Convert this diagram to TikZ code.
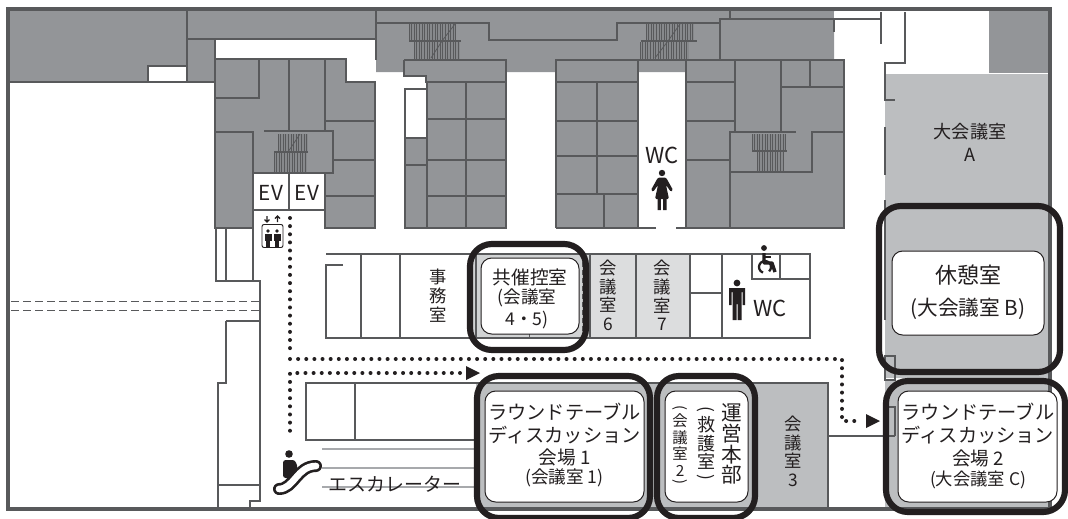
\documentclass[tikz,border=0pt]{standalone}
\usepackage{fontspec}
\setmainfont{Noto Sans CJK JP}
\newcommand{\pxfont}[2]{\fontsize{#1}{#2}\selectfont}
\definecolor{wallc}{HTML}{58595B}
\definecolor{darkroom}{HTML}{939598}
\definecolor{lightroom}{HTML}{BCBEC0}
\definecolor{paleroom}{HTML}{DCDDDE}
\definecolor{midroom}{HTML}{D1D3D4}
\definecolor{thinc}{HTML}{A7A9AC}
\definecolor{inkc}{HTML}{231F20}
\newcommand{\stairhatch}[4]{%
  \fill[darkroom!80!wallc] (#1,#2) rectangle (#3,#4);
  \pgfmathsetmacro\hxnext{#1+2.6}
  \foreach \hx in {#1,\hxnext,...,#3} \draw[wallc,line width=0.5pt] (\hx,#2) -- (\hx,#4);
}
\tikzset{
  wall/.style={draw=wallc,line width=1.5pt,line join=miter},
  thickwall/.style={draw=wallc,line width=3pt},
  frameloop/.style={draw=inkc,line width=4.6pt,rounded corners=16.5pt},
  whitebox/.style={draw=inkc,line width=0.75pt,fill=white,rounded corners=8pt},
  label/.style={text=inkc,inner sep=0pt,align=center,font=\pxfont{13.6}{17}},
  vlabel/.style={text=inkc,inner sep=0pt,align=center,font=\pxfont{13}{14}},
  vparen/.style={text=inkc,inner sep=0pt,rotate=-90},
  dotroute/.style={draw=inkc,line width=3pt,line cap=round,dash pattern=on 0pt off 6.1pt},
  iconfill/.style={fill=inkc,draw=none}
}
\begin{document}
\begin{tikzpicture}[x=0.75pt,y=-0.75pt]
\clip (0,0) rectangle (1068,518);
\fill[white] (0,0) rectangle (1068,518);
% ---------- fills
\fill[lightroom] (885,74) rectangle (1048,378);
\fill[lightroom] (885,381) rectangle (1048,507);
\fill[lightroom] (476,383) rectangle (828,507);
\fill[midroom] (472,254) rectangle (590,338);
\fill[paleroom] (590,254) rectangle (690,338);
\fill[darkroom] (9,10) -- (187,10) -- (187,66) -- (148,66) -- (148,81) -- (9,81) -- cycle;
\fill[darkroom] (187,10) rectangle (376,38);
\fill[darkroom] (187,38) rectangle (215,81);
\fill[darkroom] (376,10) -- (834,10) -- (834,60) -- (686,60) -- (686,72) -- (638,72) -- (638,60) -- (556,60) -- (556,72) -- (506,72) -- (404,72) -- (376,72) -- cycle;
\fill[darkroom] (989,11) rectangle (1048,73);
\fill[white] (834,12) rectangle (881,18);
\fill[darkroom] (215,59) -- (346,59) -- (346,82) -- (375,82) -- (375,228) -- (325,228) -- (325,173) -- (253,173) -- (253,228) -- (215,228) -- cycle;
\fill[darkroom] (404,60) -- (506,60) -- (506,228) -- (405,228) -- (405,137) -- (427,137) -- (427,76) -- (404,76) -- cycle;
\fill[darkroom] (556,60) rectangle (638,228);
\fill[darkroom] (686,60) rectangle (844,228);
\fill[darkroom] (638,60) rectangle (686,72);
% ---------- stairs
\stairhatch{409}{24}{456}{40}
\stairhatch{414}{42}{460}{59}
\stairhatch{646}{24}{694}{40}
\stairhatch{640}{42}{689}{59}
\stairhatch{278}{134}{308}{151}
\stairhatch{274}{153}{307}{172}
\stairhatch{752}{134}{786}{150}
\stairhatch{757}{152}{784}{172}
\draw[wallc,line width=0.6pt] (431,58) -- (442,41) -- (455,24);
\draw[wallc,line width=0.6pt] (655,58) -- (668,41) -- (680,24);
\draw[wallc,line width=0.6pt] (288,152) -- (300,134);
\draw[wall] (409,41) -- (461,41) (641,41) -- (697,41) (274,152) -- (308,152) (752,151) -- (787,151);
% ---------- walls: top left
\draw[wall] (148,81) -- (148,66) -- (187,66);
\draw[wall] (187,10) -- (187,81);
\draw[wall] (187,38.5) -- (376,38.5);
\draw[wall] (9,82) -- (215,82);
\draw[wall] (215,39) -- (215,228) -- (253,228);
\draw[wall] (376,10) -- (376,60);
\draw[wall] (376,23) -- (489,23) -- (489,40) -- (617,40) -- (617,23) -- (720,23);
\draw[wall] (720,59) -- (720,19) -- (881,19);
\draw[wall] (730,10) -- (730,18);
\draw[wall] (834,19) -- (834,32);
% elevator block
\draw[wall] (215,59) -- (346,59) -- (346,82) -- (375,82) -- (375,228) -- (325,228) -- (325,173);
\draw[wall] (215,98) -- (259,98) -- (259,59);
\draw[wall] (289,59) -- (289,131);
\draw[wall] (325,59) -- (325,131);
\draw[wall] (264,131) -- (333,131) -- (333,173) -- (253,173) -- (253,132) -- (215,132);
\draw[wall] (326,121) -- (375,121) (333,160) -- (375,160) (325,196) -- (375,196);
\draw[wall] (253,173) -- (253,281);
\draw[wall] (289,173) -- (289,210);
\draw[wall] (253,210) -- (325,210);
% second block
\draw[wall] (404,60) -- (506,60) -- (506,228) -- (405,228) -- (405,89) -- (427,89);
\draw[wall] (404,60) -- (404,76) -- (426,76) -- (426,82) -- (506,82);
\draw[wall] (427,82) -- (427,228);
\draw[wall] (466,82) -- (466,228);
\draw[wall] (427,119) -- (506,119) (427,160) -- (506,160) (427,196) -- (506,196);
\draw[wall] (405,138) -- (427,138) (405,165) -- (427,165);
% third block
\draw[wall] (556,228) -- (556,60) -- (844,60) -- (844,228) -- (676,228);
\draw[wall] (656,228) -- (556,228);
\draw[wall] (638,60) -- (638,228);
\draw[wall] (686,60) -- (686,228);
\draw[wall] (556,82) -- (638,82) (556,121) -- (638,121) (556,156) -- (638,156) (556,194) -- (638,194);
\draw[wall] (597,82) -- (597,194) (604,194) -- (604,228);
\draw[wall] (686,82) -- (735,82) (686,121) -- (735,121) (686,160) -- (730,160);
\draw[wall] (735,60) -- (735,132);
\draw[wall] (781,60) -- (781,131);
\draw[wall] (781,87) -- (844,87) (810,60) -- (810,87);
\draw[wall] (796,132) -- (730,132) -- (730,228);
\draw[wall] (730,172) -- (812,172) -- (812,132) -- (844,132);
% right top
\draw[wall] (881,12) -- (881,44);
\draw[wall] (905,12) -- (905,63) -- (885,63) -- (885,100) -- (895,100);
\draw[wall] (885,127) -- (885,175);
\draw[wall] (885,200) -- (885,320);
\draw[wall] (885,356) rectangle (895,380);
\draw[wall] (885,407) -- (895,407) -- (895,436);
\draw[wall] (828,436) -- (895,436);
% left passage
\draw[wall] (226,228) -- (226,281);
\draw[wall] (216,228) -- (216,281) -- (260,281) -- (260,501) -- (250,501) -- (250,508);
\draw[wall] (226,321) -- (260,321);
\draw[wall] (226,321) -- (226,383) -- (218,383) -- (218,508);
\draw[wall] (218,485) -- (260,485);
\draw[wallc,line width=0.6pt,dash pattern=on 6pt off 3pt] (11,301) -- (260,301) (11,310) -- (260,310);
% middle row
\draw[wall] (343,265) -- (326,265) -- (326,338) -- (810,338) -- (810,254) -- (326,254);
\draw[wall] (361,254) -- (361,338) (400,254) -- (400,338);
\draw[wall] (476,254) -- (476,338);
\draw[wall] (590,254) -- (590,338) (636,254) -- (636,338) (690,254) -- (690,338) (722,254) -- (722,338);
\draw[wall] (690,293) -- (722,293);
\draw[wall] (752,254) -- (752,279) -- (810,279) (780,254) -- (780,279);
\draw[wallc,line width=0.8pt,dash pattern=on 4pt off 2pt] (583,254) -- (583,338);
\draw[wallc,line width=0.6pt] (529,334) -- (529,338);
% lower row
\draw[wall] (476,440) -- (306,440) -- (306,383) -- (828,383) -- (828,509);
\draw[wall] (355,383) -- (355,440);
\draw[thinc,line width=1pt] (322,449) -- (476,449) (322,468) -- (476,468) (322,487) -- (476,487);
% ---------- outer wall
\draw[thickwall] (7.5,9) -- (1050,9) -- (1050,509) -- (7.5,509) -- cycle;
% ---------- routes
\coordinate (liftdot) at (290,218);
\coordinate (routeA) at (290,359);
\coordinate (routeB) at (842,359);
\coordinate (routeC) at (842,421);
\coordinate (routeD) at (862,421);
\coordinate (escdot) at (290,438);
\coordinate (routeE) at (290,373);
\coordinate (routeF) at (460,373);
\draw[dotroute] (liftdot) -- (290,350);
\draw[dotroute] (routeA) -- (routeB) -- (routeC) -- (routeD);
\draw[dotroute] (routeF) -- (routeE) -- (escdot);
\fill[inkc] (866,414) -- (880,421) -- (866,428) -- cycle;
\fill[inkc] (466,366) -- (480,373) -- (466,380) -- cycle;
% ---------- icons
% lift
\draw[inkc,line width=0.7pt,rounded corners=1.5pt] (262,224.5) rectangle (283,247.5);
\draw[inkc,line width=0.9pt] (267,216) -- (267,222) (264.5,219.5) -- (267,222) -- (269.5,219.5);
\draw[inkc,line width=0.9pt] (277.5,222) -- (277.5,216) (275,218.5) -- (277.5,216) -- (280,218.5);
\foreach \px in {268,277}{
  \fill[inkc] (\px,231) circle (1.9);
  \fill[inkc] (\px-3.5,234) rectangle (\px+3.5,241);
  \fill[inkc] (\px-2.3,241) rectangle (\px-0.3,247);
  \fill[inkc] (\px+0.3,241) rectangle (\px+2.3,247);
}
% woman
\fill[inkc] (662,173) circle (3.2);
\fill[iconfill,rounded corners=1pt] (658,177.5) -- (666,177.5) -- (673,190) -- (671,192) -- (666,185) -- (669,199) -- (655,199) -- (658,185) -- (653,192) -- (651,190) -- cycle;
\fill[inkc] (657.5,199) rectangle (660.8,210) (663.2,199) rectangle (666.5,210);
% man
\fill[inkc] (737,283) circle (3.4);
\fill[iconfill] (729,288) -- (745,288) -- (745,305) -- (742.5,305) -- (742.5,292) -- (741.5,292) -- (741.5,320) -- (737.5,320) -- (737.5,304) -- (736.5,304) -- (736.5,320) -- (732.5,320) -- (732.5,292) -- (731.5,292) -- (731.5,305) -- (729,305) -- cycle;
% wheelchair
\fill[inkc] (764,248) circle (2.9);
\draw[inkc,line width=1.7pt] (765,267) ++(47:6) arc (47:-250:6);
\draw[inkc,line width=2.6pt,line join=round] (764,253) -- (764,263) -- (772,263) -- (775,272);
\draw[inkc,line width=1.7pt] (764,257) -- (771,257);
% escalator
\draw[inkc,line width=9pt,line cap=round,line join=round] (279,489) .. controls (294,489) and (297,466) .. (316,466);
\draw[white,line width=5pt,line cap=round,line join=round] (279,489) .. controls (294,489) and (297,466) .. (316,466);
\fill[inkc] (289,454) circle (3.8);
\fill[iconfill,rounded corners=2pt] (283,460) -- (295,460) -- (298,468) -- (291,478) -- (283,478) -- cycle;
% ---------- frames
\draw[frameloop] (470,244) rectangle (586,350);
\draw[frameloop] (477,376) rectangle (650,518);
\draw[frameloop] (657,376) rectangle (755,518);
\draw[frameloop] (879,206) rectangle (1060,372);
\draw[frameloop] (886,381) rectangle (1065,512);
% ---------- inner boxes
\path[whitebox] (481,258) rectangle (579,334);
\path[whitebox] (485,391) rectangle (644,502);
\path[whitebox] (665,391) rectangle (748,502);
\path[whitebox] (892,251) rectangle (1044,335);
\path[whitebox] (898,391) rectangle (1057,502);
% ---------- text
\node[label,font=\pxfont{15.5}{17}] (ev1) at (271,193) {EV};
\node[label,font=\pxfont{15.5}{17}] (ev2) at (307,193) {EV};
\node[label,font=\pxfont{16.5}{17}] (wcw) at (662,155) {WC};
\node[label,font=\pxfont{16.5}{17}] (wcm) at (770,308) {WC};
\node[label] (halla) at (970,142.5) {大会議室\\A};
\node[vlabel] (office) at (438,295.5) {事\\務\\室};
\node[vlabel] (rm6) at (608,295.5) {会\\議\\室\\6};
\node[vlabel] (rm7) at (662,295.5) {会\\議\\室\\7};
\node[vlabel] (rm3) at (793,451.5) {会\\議\\室\\3};
\node[label,font=\pxfont{14}{17}] (kyo1) at (530,277) {共催控室};
\node[label,font=\pxfont{13.2}{16.5}] (kyo2) at (527,309) {(会議室\\4・5)};
\node[label,font=\pxfont{14.4}{17}] (rt1) at (564.5,423.5) {ラウンドテーブル\\ディスカッション};
\node[label,font=\pxfont{14}{17}] (rt1b) at (564.5,457) {会場 1};
\node[label,font=\pxfont{13.2}{15}] (rt1c) at (564.5,478) {(会議室 1)};
\node[label,font=\pxfont{14.4}{17}] (rt2) at (978,423.5) {ラウンドテーブル\\ディスカッション};
\node[label,font=\pxfont{14}{17}] (rt2b) at (978,458) {会場 2};
\node[label,font=\pxfont{13}{15}] (rt2c) at (978,480) {(大会議室 C)};
\node[label,font=\pxfont{16.5}{20}] (rest1) at (968,275) {休憩室};
\node[label,font=\pxfont{15.5}{17}] (rest2) at (968,309) {(大会議室 B)};
\node[label,font=\pxfont{15.5}{15.7}] (hq1) at (732,444) {運\\営\\本\\部};
\node[label,font=\pxfont{13.5}{14}] (hq2) at (706,443) {救\\護\\室};
\node[vparen,font=\pxfont{13}{14}] (hq2a) at (706,409) {(};
\node[vparen,font=\pxfont{13}{14}] (hq2b) at (706,477) {)};
\node[label,font=\pxfont{11.5}{12.4}] (hq3) at (680,445) {会\\議\\室\\2};
\node[vparen,font=\pxfont{11}{12}] (hq3a) at (680,408) {(};
\node[vparen,font=\pxfont{11}{12}] (hq3b) at (680,482) {)};
\node[label,font=\pxfont{14.2}{17}] (esc) at (395,484) {エスカレーター};
\end{tikzpicture}
\end{document}
